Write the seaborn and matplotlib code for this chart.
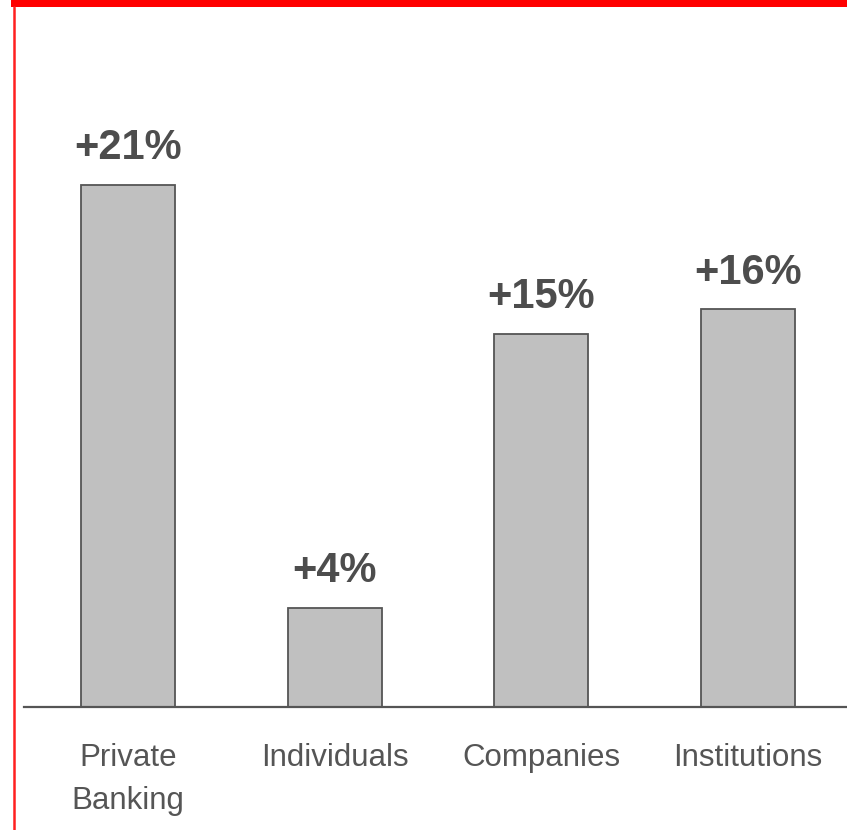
import matplotlib
matplotlib.use("Agg")
import matplotlib.pyplot as plt
import seaborn as sns
import pandas as pd
from matplotlib.lines import Line2D
from matplotlib.patches import Rectangle

# Growth by client segment
segments = ["Private\nBanking", "Individuals", "Companies", "Institutions"]
growth = [21, 4, 15, 16]
growth_labels = ["+21%", "+4%", "+15%", "+16%"]

df = pd.DataFrame({"segment": segments, "growth": growth})

sns.set_theme(style="white")
plt.rcParams["font.family"] = ["Liberation Sans", "DejaVu Sans"]

W, H = 847, 830
fig = plt.figure(figsize=(W / 100, H / 100), dpi=100)
fig.patch.set_facecolor("white")

ax_left, ax_right = 24, 847
ax_bottom_px, ax_top_px = 707, 11
ax = fig.add_axes([ax_left / W, (H - ax_bottom_px) / H,
                   (ax_right - ax_left) / W, (ax_bottom_px - ax_top_px) / H])

sns.barplot(data=df, x="segment", y="growth", ax=ax, color="#c0c0c0",
            saturation=1, width=0.455, edgecolor="#555555", linewidth=1.3)

ax.set_xlim(-0.504, 3.48)
ax.set_ylim(0, 28)

for i, (v, lab) in enumerate(zip(growth, growth_labels)):
    ax.annotate(lab, xy=(i, v), xytext=(0, 12), textcoords="offset points",
                ha="center", va="bottom", fontsize=30, fontweight="bold",
                color="#4d4d4d")

for s in ["top", "right", "left"]:
    ax.spines[s].set_visible(False)
ax.spines["bottom"].set_color("#555555")
ax.spines["bottom"].set_linewidth(1.6)

ax.set_yticks([])
ax.set_xlabel("")
ax.set_ylabel("")
ax.tick_params(axis="x", length=0, pad=26, labelsize=22.5, colors="#555555")
for t in ax.get_xticklabels():
    t.set_linespacing(1.55)
    t.set_verticalalignment("top")

# Red frame accents: top band and left rule
band_h = 7.5
fig.add_artist(Rectangle((11 / W, 1 - band_h / H), (W - 11) / W, band_h / H,
                         transform=fig.transFigure, facecolor="#ff0000",
                         edgecolor="none"))
fig.add_artist(Line2D([13.5 / W, 13.5 / W], [0, 1 - band_h / H],
                      transform=fig.transFigure, color="#ff2020", linewidth=1.8))

fig.savefig("out.png", dpi=100, facecolor="white")
